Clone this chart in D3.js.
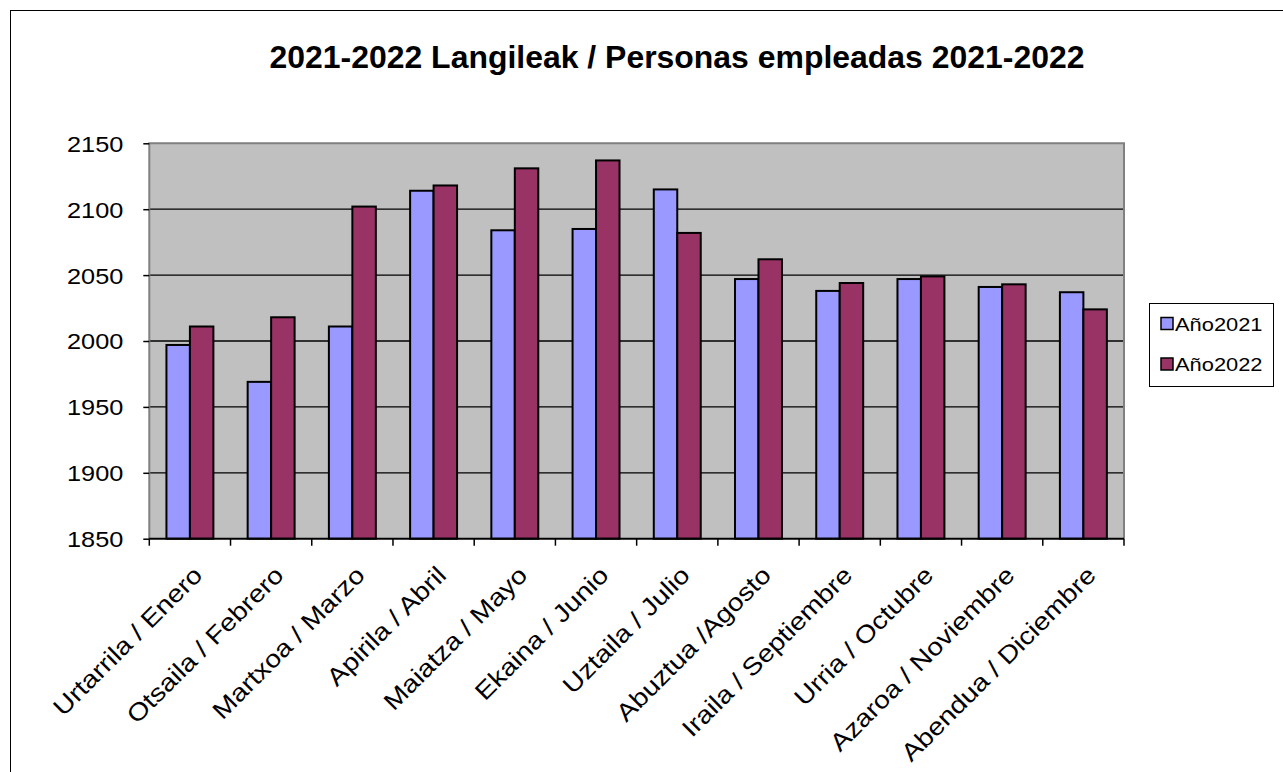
<!DOCTYPE html>
<html><head><meta charset="utf-8">
<script src="https://cdn.jsdelivr.net/npm/d3@7"></script>
<style>body{margin:0;background:#fff}svg{display:block}text{font-family:"Liberation Sans",Arial,sans-serif}</style>
</head><body>
<svg id="c" width="1283" height="772"></svg>
<script>
const title = "2021-2022 Langileak / Personas empleadas 2021-2022";
const categories = ["Urtarrila / Enero","Otsaila / Febrero","Martxoa / Marzo","Apirila / Abril","Maiatza / Mayo","Ekaina / Junio","Uztaila / Julio","Abuztua /Agosto","Iraila / Septiembre","Urria / Octubre","Azaroa / Noviembre","Abendua / Diciembre"];
const seriesNames = ["Año2021","Año2022"];
const values2021 = [1997,1969,2011,2114,2084,2085,2115,2047,2038,2047,2041,2037];
const values2022 = [2011,2018,2102,2118,2131,2137,2082,2062,2044,2049,2043,2024];
const yTicks = [1850,1900,1950,2000,2050,2100,2150];
const colors = ["#9999FF","#993366"];

const svg = d3.select("#c");
const L=149.3, R=1124, T=143.3, B=538.7;
const stretch = 1.15;

svg.append("rect").attr("x",10.5).attr("y",10.5).attr("width",1300).attr("height",800)
  .attr("fill","none").attr("stroke","#000").attr("stroke-width",1);

const x0 = d3.scaleBand().domain(categories).range([L,R]).padding(0);
const x1 = d3.scaleBand().domain(seriesNames).range([0,x0.bandwidth()]).paddingInner(0).paddingOuter(0.73);
const y = d3.scaleLinear().domain([1850,2150]).range([B,T]);

svg.append("rect").attr("x",L).attr("y",T).attr("width",R-L).attr("height",B-T).attr("fill","#C0C0C0");

// gridlines
svg.append("g").selectAll("line").data(yTicks.slice(1,-1)).join("line")
  .attr("x1",L).attr("x2",R).attr("y1",d=>y(d)).attr("y2",d=>y(d))
  .attr("stroke","#000").attr("stroke-width",1.3);

// plot border grey (top, right, left)
svg.append("path").attr("d",`M${L},${B} L${L},${T} L${R},${T} L${R},${B}`)
  .attr("fill","none").attr("stroke","#808080").attr("stroke-width",2);

// bars
const data = [values2021, values2022];
const g = svg.append("g");
categories.forEach((c,i)=>{
  seriesNames.forEach((s,j)=>{
    g.append("rect")
      .attr("x",x0(c)+x1(s)).attr("width",x1.bandwidth())
      .attr("y",y(data[j][i])).attr("height",y(1850)-y(data[j][i]))
      .attr("fill",colors[j]).attr("stroke","#000").attr("stroke-width",2);
  });
});

// y axis
const yAxis = d3.axisLeft(y).tickValues(yTicks).tickSize(6).tickPadding(20).tickFormat(d3.format("d"));
const ya = svg.append("g").attr("transform",`translate(${L},0)`).call(yAxis);
ya.select(".domain").remove();
ya.selectAll(".tick line").attr("stroke","#000").attr("stroke-width",1.5);
ya.selectAll(".tick text").attr("font-size",22).attr("fill","#000").attr("font-family","Liberation Sans, Arial, sans-serif").attr("dy","0.36em");

// x axis
const tickPos = d3.range(categories.length+1).map(i=>L+i*x0.step());
const xa = svg.append("g");
xa.append("line").attr("x1",L).attr("x2",R).attr("y1",B).attr("y2",B).attr("stroke","#000").attr("stroke-width",2);
xa.selectAll("line.t").data(tickPos).join("line").attr("class","t")
  .attr("x1",d=>d).attr("x2",d=>d).attr("y1",B).attr("y2",B+7).attr("stroke","#000").attr("stroke-width",1.5);
xa.selectAll("text").data(categories).join("text")
  .attr("transform",d=>`translate(${x0(d)+x0.bandwidth()/2+14},${B+38}) rotate(-45)`)
  .attr("text-anchor","end").attr("font-size",24.5).attr("fill","#000").text(d=>d);

// title
svg.append("text").attr("x",677).attr("y",68).attr("text-anchor","middle")
  .attr("font-size",30.5).attr("font-weight","bold").attr("fill","#000").text(title)
  .attr("textLength",815).attr("lengthAdjust","spacingAndGlyphs");

// legend
const lg = svg.append("g");
lg.append("rect").attr("x",1149.5).attr("y",303.5).attr("width",124).attr("height",83).attr("fill","#fff").attr("stroke","#000").attr("stroke-width",1);
seriesNames.forEach((s,j)=>{
  const cy = 323.5 + j*40.5;
  lg.append("rect").attr("x",1161).attr("y",cy-6).attr("width",12).attr("height",12).attr("fill",colors[j]).attr("stroke","#000").attr("stroke-width",1.5);
  lg.append("text").attr("x",1175).attr("y",cy+7).attr("font-size",19).attr("fill","#000").text(s).attr("class","st");
});

// horizontal stretch of texts (original rendering is wider than the font)
svg.selectAll(".tick text, g text, text.st").each(function(){
  const el=this;
  if(el.getAttribute("textLength")) return;
  const w=el.getComputedTextLength();
  el.setAttribute("textLength", w*stretch);
  el.setAttribute("lengthAdjust","spacingAndGlyphs");
});
</script>
</body></html>
